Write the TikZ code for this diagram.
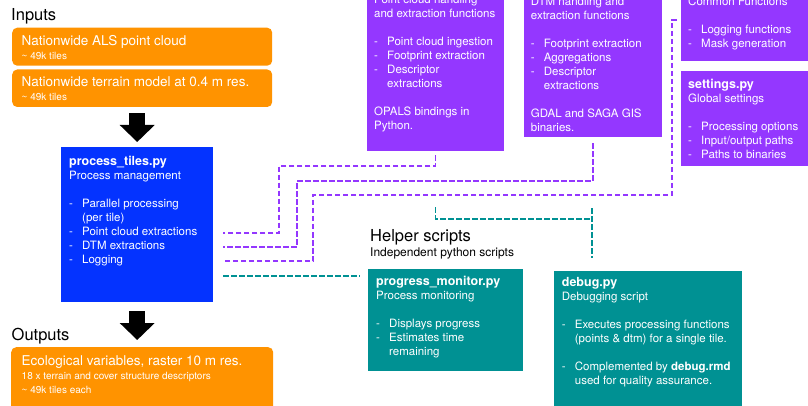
\documentclass[tikz,border=0pt]{standalone}
\usepackage{fontspec}
\setmainfont{TeX Gyre Heros}
\usetikzlibrary{arrows.meta}

\definecolor{orangeIO}{RGB}{255,147,0}
\definecolor{bleuMain}{RGB}{4,51,255}
\definecolor{violetLib}{RGB}{148,55,255}
\definecolor{sarcelle}{RGB}{0,145,147}

% tiret de liste et retrait des lignes suivantes
\newcommand{\itm}[1]{\makebox[13pt][l]{-}#1}
\newcommand{\cnt}{\hspace*{13pt}}
\newcommand{\fichier}[1]{{\fontsize{12.5}{14}\selectfont\bfseries #1}}

\begin{document}
\begin{tikzpicture}[x=1pt,y=-1pt,
  boite/.style={anchor=north west,inner sep=0pt,draw=none},
  texte/.style={anchor=north west,inner sep=0pt,align=left,text=white,font=\fontsize{11.5}{14}\selectfont},
  titre/.style={anchor=base west,inner sep=0pt,font=\fontsize{16.5}{18}\selectfont},
  tiret/.style={dash pattern=on 5.5pt off 2.5pt,line width=1.5pt},
  fleche/.style={line width=16pt,-{Triangle[width=34pt,length=17pt]}}]

\useasboundingbox (0,0) rectangle (808,406);
\clip (0,0) rectangle (808,406);

%%%%%%%%%%%%%%%%%%%%%%%%
% Entrees
%%%%%%%%%%%%%%%%%%%%%%%%
\node[titre] (inputs) at (11,21) {Inputs};
\node[boite,fill=orangeIO,rounded corners=5pt,minimum width=260pt,minimum height=38pt] (in1) at (12,27.5) {};
\node[texte,font=\fontsize{13.5}{14}\selectfont] (in1txt) at (21.5,35.2)
  {\strut Nationwide ALS point cloud\\ {\fontsize{10}{14}\selectfont\textasciitilde{} 49k tiles}};
\node[boite,fill=orangeIO,rounded corners=5pt,minimum width=260pt,minimum height=37.5pt] (in2) at (12,69.3) {};
\node[texte,font=\fontsize{13.5}{14}\selectfont] (in2txt) at (21.5,76.2)
  {\strut Nationwide terrain model at 0.4 m res.\\ {\fontsize{10}{14}\selectfont\textasciitilde{} 49k tiles}};

%%%%%%%%%%%%%%%%%%%%%%%%
% Script principal
%%%%%%%%%%%%%%%%%%%%%%%%
\node[boite,fill=bleuMain,minimum width=152pt,minimum height=155pt] (proc) at (61,147) {};
\node[texte] (proctxt) at (69,155.2)
  {\strut\fichier{process\_tiles.py}\\ Process management\\[14pt]
   \itm{Parallel processing}\\ \cnt(per tile)\\ \itm{Point cloud extractions}\\
   \itm{DTM extractions}\\ \itm{Logging}};

\draw[fleche,shorten <=6pt,shorten >=5pt] (proc.north |- in2.south) -- (proc.north);
\draw[fleche,shorten <=9pt,shorten >=7pt] (proc.south) -- (proc.south |- 0,347);

%%%%%%%%%%%%%%%%%%%%%%%%
% Sorties
%%%%%%%%%%%%%%%%%%%%%%%%
\node[titre] (outputs) at (11.5,340.5) {Outputs};
\node[boite,fill=orangeIO,rounded corners=5pt,minimum width=262pt,minimum height=80pt] (out) at (11,347) {};
\node[texte,font=\fontsize{13.5}{14}\selectfont] (outtxt) at (21.5,355.2)
  {\strut Ecological variables, raster 10 m res.\\
   {\fontsize{10}{14}\selectfont 18 x terrain and cover structure descriptors}\\
   {\fontsize{10}{14}\selectfont\textasciitilde{} 49k tiles each}};

%%%%%%%%%%%%%%%%%%%%%%%%
% Bibliotheques
%%%%%%%%%%%%%%%%%%%%%%%%
\node[boite,fill=violetLib,minimum width=137pt,minimum height=200pt] (ptA) at (367,-49) {};
\node[texte] (ptAtxt) at (374,-6.5)
  {\strut Point cloud handling\\ and extraction functions\\[14pt]
   \itm{Point cloud ingestion}\\ \itm{Footprint extraction}\\ \itm{Descriptor}\\
   \cnt extractions\\[14pt] OPALS bindings in\\ Python.};

\node[boite,fill=violetLib,minimum width=138pt,minimum height=200pt] (ptB) at (524,-63) {};
\node[texte] (ptBtxt) at (530.7,-4.8)
  {\strut DTM handling and\\ extraction functions\\[14pt]
   \itm{Footprint extraction}\\ \itm{Aggregations}\\ \itm{Descriptor}\\
   \cnt extractions\\[14pt] GDAL and SAGA GIS\\ binaries.};

\node[boite,fill=violetLib,minimum width=140pt,minimum height=200pt] (ptC) at (681,-139) {};
\node[texte] (ptCtxt) at (688,-4.8)
  {\strut Common Functions\\[14pt] \itm{Logging functions}\\ \itm{Mask generation}};

\node[boite,fill=violetLib,minimum width=140pt,minimum height=95pt] (sett) at (681,71) {};
\node[texte] (setttxt) at (688,78.5)
  {\strut\fichier{settings.py}\\ Global settings\\[14pt]
   \itm{Processing options}\\ \itm{Input/output paths}\\ \itm{Paths to binaries}};

% liens vers process_tiles.py
\coordinate (e1) at (223,233);
\coordinate (e2) at (223,247);
\coordinate (e3) at (223,261);
\coordinate (e4) at (223,276);
\draw[tiret,violetLib] ([yshift=-4pt]ptA.south) |- (279,166) |- (e1);
\draw[tiret,violetLib] ([yshift=-6pt]ptB.south) |- (297,181) |- (e2);
\draw[tiret,violetLib] (677,20) -- (672,20) |- (313,195) |- (e3);

%%%%%%%%%%%%%%%%%%%%%%%%
% Scripts annexes
%%%%%%%%%%%%%%%%%%%%%%%%
\node[titre] (helper) at (370,241) {Helper scripts};
\node[titre,font=\fontsize{12}{14}\selectfont] (helpersub) at (370,256) {Independent python scripts};

\node[boite,fill=sarcelle,minimum width=155pt,minimum height=102pt] (prog) at (368,269) {};
\node[texte] (progtxt) at (376,275.2)
  {\strut\fichier{progress\_monitor.py}\\ Process monitoring\\[14pt]
   \itm{Displays progress}\\ \itm{Estimates time}\\ \cnt remaining};

\node[boite,fill=sarcelle,minimum width=188pt,minimum height=150pt] (debug) at (554,271) {};
\node[texte] (debugtxt) at (561.7,276.9)
  {\strut\fichier{debug.py}\\ Debugging script\\[14pt]
   \itm{Executes processing functions}\\ \cnt(points \& dtm) for a single tile.\\[14pt]
   \itm{Complemented by \textbf{debug.rmd}}\\ \cnt used for quality assurance.};

\coordinate (p4) at (360,276);
\draw[tiret,sarcelle] (e4) -- (p4);
\draw[tiret,sarcelle] ([yshift=-56pt]ptA.south) |- (592,219);
\draw[tiret,sarcelle] (592,208) -- (592,258);

\end{tikzpicture}
\end{document}
